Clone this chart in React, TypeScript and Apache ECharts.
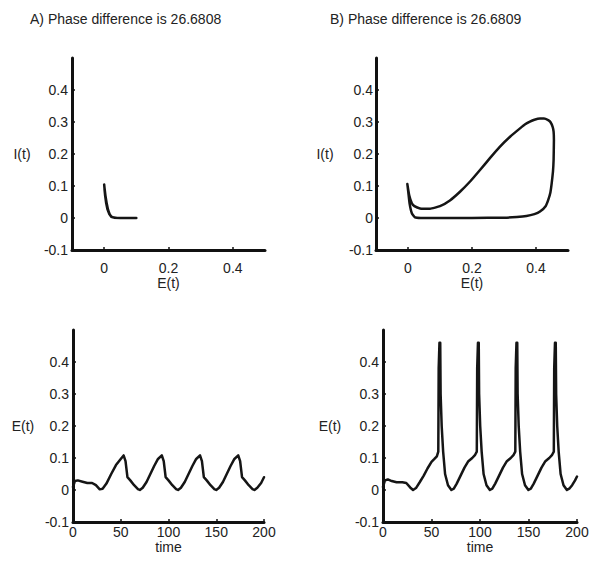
import React, { useEffect, useRef } from "react";
import * as echarts from "echarts";

const FONT = "'Liberation Sans', Arial, Helvetica, sans-serif";

const titleA = "A) Phase difference is 26.6808";
const titleB = "B) Phase difference is 26.6809";

const phaseTicksX = [0, 0.2, 0.4];
const valueTicksY = [-0.1, 0, 0.1, 0.2, 0.3, 0.4];
const timeTicksX = [0, 50, 100, 150, 200];

// Panel A: phase portrait I(t) vs E(t)
const A_E = [0.1, 0.07, 0.04, 0.026, 0.019, 0.013, 0.009, 0.005, 0.002, 0.0, 0.001, 0.004, 0.008, 0.012, 0.017, 0.022, 0.03, 0.05, 0.08, 0.1, 0.07, 0.035, 0.024, 0.016, 0.01, 0.006, 0.003, 0.001];
const A_I = [0.0, 0.0, 0.0, 0.002, 0.008, 0.02, 0.036, 0.056, 0.08, 0.105, 0.095, 0.07, 0.045, 0.026, 0.012, 0.004, 0.001, 0.0, 0.0, 0.0, 0.0, 0.0, 0.003, 0.012, 0.028, 0.048, 0.07, 0.09];

// Panel B: phase portrait I(t) vs E(t)
const B_E = [-0.002, 0.001, 0.005, 0.012, 0.022, 0.04, 0.1, 0.2, 0.3, 0.34, 0.37, 0.395, 0.4125, 0.43, 0.438, 0.445, 0.449, 0.453, 0.455, 0.456, 0.455, 0.452, 0.445, 0.438, 0.425, 0.4125, 0.395, 0.381, 0.365, 0.35, 0.319, 0.2875, 0.256, 0.225, 0.194, 0.1625, 0.131, 0.1, 0.069, 0.0375, 0.02, 0.012, 0.004, -0.002];
const B_I = [0.106, 0.08, 0.045, 0.015, 0.002, 0.0, 0.0, 0.0, 0.001, 0.003, 0.006, 0.012, 0.02, 0.037, 0.056, 0.08, 0.108, 0.145, 0.181, 0.244, 0.27, 0.285, 0.3, 0.306, 0.311, 0.311, 0.307, 0.301, 0.292, 0.28, 0.254, 0.223, 0.187, 0.15, 0.114, 0.082, 0.055, 0.037, 0.029, 0.03, 0.037, 0.046, 0.07, 0.106];

// Panel C: E(t) over time
const C_T = [0, 2, 5, 10, 15, 20, 24, 28, 31, 35, 40, 45, 50, 53, 55, 57, 60, 64, 68, 70, 73, 77, 81, 85, 89, 93, 95, 97, 100, 104, 108, 110, 113, 117, 121, 125, 129, 133, 135, 137, 140, 144, 148, 150, 153, 157, 161, 165, 169, 173, 175, 177, 180, 184, 188, 190, 193, 197, 200];
const C_E = [0.01, 0.028, 0.03, 0.026, 0.022, 0.022, 0.015, 0.002, 0.004, 0.02, 0.05, 0.078, 0.097, 0.108, 0.09, 0.04, 0.03, 0.015, 0.003, 0.0, 0.007, 0.025, 0.05, 0.075, 0.097, 0.108, 0.09, 0.04, 0.03, 0.015, 0.003, 0.0, 0.007, 0.025, 0.05, 0.075, 0.097, 0.108, 0.09, 0.04, 0.03, 0.015, 0.003, 0.0, 0.007, 0.025, 0.05, 0.075, 0.097, 0.108, 0.09, 0.04, 0.03, 0.015, 0.003, 0.0, 0.007, 0.022, 0.04];

// Panel D: E(t) over time
const D_T = [0, 2, 5, 9, 14, 20, 24, 28, 31, 34, 38, 42, 46, 50, 53, 55.5, 57, 57.4, 58.2, 59, 59.4, 60.5, 62, 64, 67, 70.5, 73, 76, 80, 84, 88, 92, 95, 96.7, 97.1, 97.9, 98.7, 99.1, 100.2, 101.7, 103.7, 106.7, 110.2, 112.7, 115.7, 119.7, 123.7, 127.7, 131.7, 134.7, 136.4, 136.8, 137.6, 138.4, 138.8, 139.9, 141.4, 143.4, 146.4, 149.9, 152.4, 155.4, 159.4, 163.4, 167.4, 171.4, 174.4, 176.1, 176.5, 177.3, 178.1, 178.5, 179.6, 181.1, 183.1, 186.1, 189.6, 192, 195, 198, 200];
const D_E = [0.01, 0.03, 0.033, 0.028, 0.024, 0.024, 0.022, 0.008, 0.0, 0.006, 0.025, 0.045, 0.068, 0.088, 0.097, 0.105, 0.12, 0.38, 0.46, 0.46, 0.3, 0.2, 0.12, 0.05, 0.015, 0.0, 0.004, 0.02, 0.045, 0.07, 0.09, 0.1, 0.11, 0.12, 0.38, 0.46, 0.46, 0.3, 0.2, 0.12, 0.05, 0.015, 0.0, 0.004, 0.02, 0.045, 0.07, 0.09, 0.1, 0.11, 0.12, 0.38, 0.46, 0.46, 0.3, 0.2, 0.12, 0.05, 0.015, 0.0, 0.004, 0.02, 0.045, 0.07, 0.09, 0.1, 0.11, 0.12, 0.38, 0.46, 0.46, 0.3, 0.2, 0.12, 0.05, 0.015, 0.0, 0.004, 0.015, 0.03, 0.042];

const zip = (a: number[], b: number[]) => a.map((v, i) => [v, b[i]]);

const AXIS_COLOR = "#111";
const TEXT_COLOR = "#222";

function makeX(gridIndex: number, min: number, max: number, ticks: number[], name: string, nameGap: number, margin: number) {
  return {
    type: "value",
    gridIndex,
    min,
    max,
    name,
    nameLocation: "middle",
    nameGap,
    nameTextStyle: { color: TEXT_COLOR, fontSize: 14, fontFamily: FONT, align: "center", verticalAlign: "middle" },
    axisLine: { show: true, onZero: false, lineStyle: { color: AXIS_COLOR, width: 3 } },
    axisTick: { show: true, inside: true, length: 3, customValues: ticks, lineStyle: { color: AXIS_COLOR, width: 1.5 } },
    axisLabel: { show: true, customValues: ticks, margin, color: TEXT_COLOR, fontSize: 14, fontFamily: FONT, formatter: (v: number) => String(v) },
    splitLine: { show: false },
  };
}

function makeY(gridIndex: number, name: string, nameGap: number, margin: number) {
  return {
    type: "value",
    gridIndex,
    min: -0.1,
    max: 0.5,
    name,
    nameLocation: "middle",
    nameGap,
    nameRotate: 0,
    nameTextStyle: { color: TEXT_COLOR, fontSize: 14, fontFamily: FONT, align: "center", verticalAlign: "middle" },
    axisLine: { show: true, onZero: false, lineStyle: { color: AXIS_COLOR, width: 3 } },
    axisTick: { show: true, inside: true, length: 3, customValues: valueTicksY, lineStyle: { color: AXIS_COLOR, width: 1.5 } },
    axisLabel: { show: true, customValues: valueTicksY, margin, color: TEXT_COLOR, fontSize: 14, fontFamily: FONT, formatter: (v: number) => String(v) },
    splitLine: { show: false },
  };
}

function lineSeries(idx: number, data: number[][], smooth: number | boolean) {
  return {
    type: "line",
    xAxisIndex: idx,
    yAxisIndex: idx,
    data,
    showSymbol: false,
    symbol: "none",
    smooth,
    lineStyle: { color: "#151515", width: 2.5, join: "round", cap: "round" },
    emphasis: { disabled: true },
    z: 1,
  };
}

export default function App() {
  const ref = useRef<HTMLDivElement>(null);
  useEffect(() => {
    if (!ref.current) return;
    const chart = echarts.init(ref.current, undefined, { renderer: "svg" });
    chart.setOption({
      animation: false,
      backgroundColor: "#ffffff",
      title: [
        { text: titleA, left: 30, top: 12, padding: 0, textStyle: { fontSize: 14, fontWeight: "normal", color: TEXT_COLOR, fontFamily: FONT } },
        { text: titleB, left: 330, top: 12, padding: 0, textStyle: { fontSize: 14, fontWeight: "normal", color: TEXT_COLOR, fontFamily: FONT } },
      ],
      grid: [
        { left: 72, top: 58, width: 193, height: 192, outerBoundsMode: "none" },
        { left: 376, top: 58, width: 192, height: 192, outerBoundsMode: "none" },
        { left: 73, top: 330, width: 191, height: 192, outerBoundsMode: "none" },
        { left: 383, top: 330, width: 194, height: 192, outerBoundsMode: "none" },
      ],
      xAxis: [
        makeX(0, -0.1, 0.5, phaseTicksX, "E(t)", 33, 11),
        makeX(1, -0.1, 0.5, phaseTicksX, "E(t)", 33, 11),
        makeX(2, 0, 200, timeTicksX, "time", 25, 3),
        makeX(3, 0, 200, timeTicksX, "time", 25, 3),
      ],
      yAxis: [
        makeY(0, "I(t)", 50, 4),
        makeY(1, "I(t)", 51, 3),
        makeY(2, "E(t)", 50, 4),
        makeY(3, "E(t)", 53, 4),
      ],
      series: [
        lineSeries(0, zip(A_E, A_I), false),
        lineSeries(1, zip(B_E, B_I), 0.12),
        lineSeries(2, zip(C_T, C_E), false),
        lineSeries(3, zip(D_T, D_E), false),
      ],
    });
    return () => chart.dispose();
  }, []);
  return (
    <div
      ref={ref}
      style={{ position: "absolute", left: 0, top: 0, width: 602, height: 562, background: "#fff" }}
    />
  );
}
